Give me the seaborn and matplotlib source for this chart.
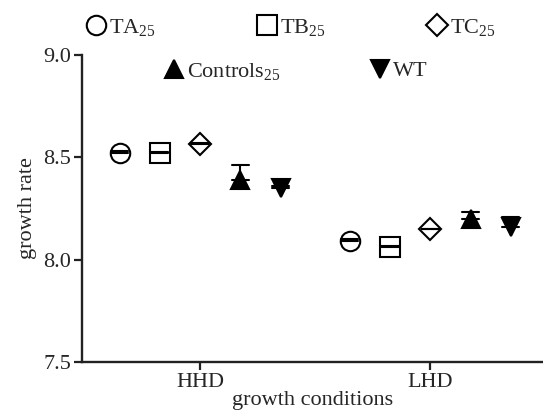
import numpy as np
import pandas as pd
import seaborn as sns
import matplotlib
matplotlib.use("Agg")
import matplotlib.pyplot as plt
from matplotlib.lines import Line2D

# ---- data ----
conditions = ["HHD", "LHD"]
groups = ["TA", "TB", "TC", "Controls", "WT"]
legend_labels = [r"TA$_\mathregular{25}$", r"TB$_\mathregular{25}$", r"TC$_\mathregular{25}$",
                 r"Controls$_\mathregular{25}$", "WT"]
means_HHD = [8.52, 8.52, 8.565, 8.39, 8.35]
errs_HHD = [0.013, 0.004, 0.005, 0.073, 0.008]
means_LHD = [8.093, 8.063, 8.148, 8.20, 8.16]
errs_LHD = [0.007, 0.005, 0.0, 0.032, 0.05]
yticks = [7.5, 8.0, 8.5, 9.0]

sns.set_theme(style="ticks")
plt.rcParams["font.family"] = ["Liberation Serif", "DejaVu Serif"]
plt.rcParams["mathtext.fontset"] = "custom"
plt.rcParams["mathtext.rm"] = "Liberation Serif"
plt.rcParams["mathtext.it"] = "Liberation Serif:italic"

rows = []
for cond, means, errs in [("HHD", means_HHD, errs_HHD), ("LHD", means_LHD, errs_LHD)]:
    for g, m, e in zip(groups, means, errs):
        rows.append({"condition": cond, "group": g, "value": m})
        rows.append({"condition": cond, "group": g, "value": m + e})
df = pd.DataFrame(rows)

markers = ["o", "s", "D", "^", "v"]
msize = {"o": 14, "s": 14, "D": 11.5, "^": 12.5, "v": 12.5}
fs = 16

fig = plt.figure(figsize=(5.43, 4.17), dpi=100)
ax = fig.add_axes([82 / 543, 1 - 362 / 417, 1 - 82 / 543, (362 - 55) / 417])

sns.pointplot(data=df, x="condition", y="value", hue="group",
              order=conditions, hue_order=groups,
              estimator="min", errorbar=lambda v: (v.min(), v.max()),
              dodge=0.7, linestyle="none", markers=markers,
              palette=["black"] * 5, capsize=0.075,
              err_kws={"linewidth": 1.5, "color": "black"},
              markersize=14, markeredgewidth=1.5,
              legend=False, ax=ax)

for ln in ax.lines:
    mk = ln.get_marker()
    if mk in msize:
        ln.set_markersize(msize[mk])
        ln.set_markeredgecolor("black")
        ln.set_markerfacecolor("black" if mk in ("^", "v") else "white")

ax.set_xlim(-0.513, 1.49)
ax.set_ylim(7.5, 9.0)
ax.set_yticks(yticks)
ax.set_yticklabels([f"{v:.1f}" for v in yticks])
ax.set_xlabel("growth conditions", fontsize=fs, labelpad=-1)
ax.set_ylabel("growth rate", fontsize=fs, labelpad=4)
ax.tick_params(axis="both", labelsize=fs, width=1.6, length=6, color="#222222", pad=2)
for s in ["top", "right"]:
    ax.spines[s].set_visible(False)
for s in ["left", "bottom"]:
    ax.spines[s].set_linewidth(1.7)
    ax.spines[s].set_color("#222222")

def handle(mk, filled):
    return Line2D([], [], marker=mk, linestyle="none", markersize=msize[mk],
                  markerfacecolor="black" if filled else "white",
                  markeredgecolor="black", markeredgewidth=1.5)

h1 = [handle("o", False), handle("s", False), handle("D", False)]
h2 = [handle("^", True), handle("v", True)]
leg1 = fig.legend(h1, legend_labels[:3], ncol=3, frameon=False, fontsize=fs,
                  loc="center left", bbox_to_anchor=(87 / 543, 1 - 27 / 417),
                  handlelength=0.8, handletextpad=0.2, columnspacing=4.6,
                  borderaxespad=0, borderpad=0)
leg2 = fig.legend(h2, legend_labels[3:], ncol=2, frameon=False, fontsize=fs,
                  loc="center left", bbox_to_anchor=(165 / 543, 1 - 71 / 417),
                  handlelength=0.8, handletextpad=0.2, columnspacing=4.05,
                  borderaxespad=0, borderpad=0)

fig.savefig("out.png", dpi=100)
